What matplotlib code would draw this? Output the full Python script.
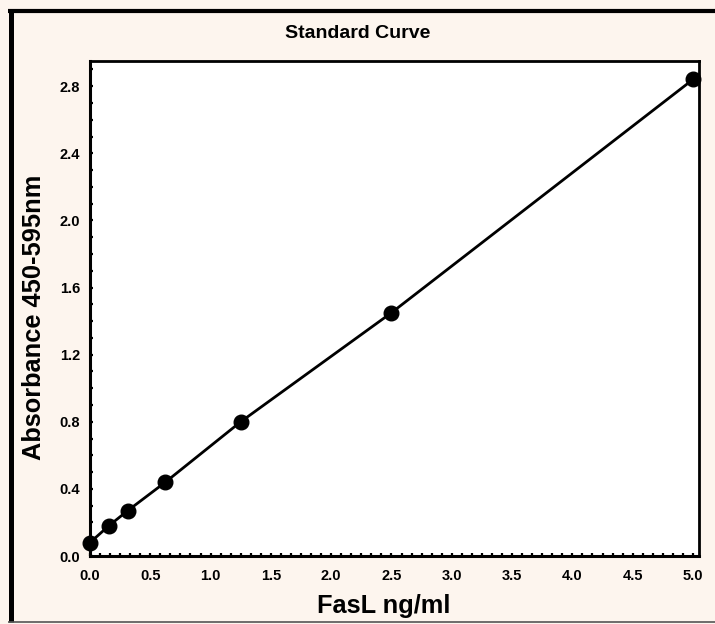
import matplotlib
matplotlib.use("Agg")
import matplotlib.pyplot as plt
from matplotlib.ticker import MultipleLocator, AutoMinorLocator, FormatStrFormatter
from matplotlib.lines import Line2D

plt.rcParams['font.family'] = ['Liberation Sans', 'DejaVu Sans']

# Data
conc = [0.0, 0.156, 0.3125, 0.625, 1.25, 2.5, 5.0]
absorbance = [0.08, 0.18, 0.27, 0.44, 0.80, 1.45, 2.84]

title = "Standard Curve"
xlabel = "FasL ng/ml"
ylabel = "Absorbance 450-595nm"

W, H = 715, 624
bg = '#FDF5EE'
fig = plt.figure(figsize=(W/100, H/100), dpi=100, facecolor=bg)
ax = fig.add_axes([90/W, 1-556/H, (699-90)/W, (556-61)/H])
ax.set_facecolor('white')

ax.plot(conc, absorbance, color='black', lw=2.0, marker='o', ms=10.5,
        mfc='black', mec='black', clip_on=False, zorder=3)

ax.set_xlim(0, 5.05)
ax.set_ylim(0, 2.95)
ax.xaxis.set_major_locator(MultipleLocator(0.5))
ax.xaxis.set_minor_locator(AutoMinorLocator(6))
ax.yaxis.set_major_locator(MultipleLocator(0.4))
ax.yaxis.set_minor_locator(AutoMinorLocator(4))
ax.xaxis.set_major_formatter(FormatStrFormatter('%.1f'))
ax.yaxis.set_major_formatter(FormatStrFormatter('%.1f'))

ax.tick_params(which='both', direction='in', width=1.6, length=2.5)
ax.tick_params(axis='x', which='major', pad=9, labelsize=10.5)
ax.tick_params(axis='y', which='major', pad=7, labelsize=10.5)
for lbl in ax.get_xticklabels() + ax.get_yticklabels():
    lbl.set_fontweight('bold')

for s in ['left', 'bottom']:
    ax.spines[s].set_linewidth(2.2)
for s in ['top', 'right']:
    ax.spines[s].set_linewidth(2.0)

fig.text(358/W, 1-33/H, title, ha='center', va='center',
         fontsize=14, fontweight='bold')
fig.text(384/W, 1-606/H, xlabel, ha='center', va='center',
         fontsize=18.3, fontweight='bold')
fig.text(34/W, 1-317/H, ylabel, ha='center', va='center',
         rotation=90, fontsize=18.3, fontweight='bold')

# outer frame
fig.add_artist(Line2D([10.5/W, 10.5/W], [1-9/H, 1-622/H], color='black', lw=3.6,
                      solid_capstyle='butt', transform=fig.transFigure))
fig.add_artist(Line2D([8/W, 1.0], [1-11/H, 1-11/H], color='black', lw=3.0,
                      solid_capstyle='butt', transform=fig.transFigure))
fig.add_artist(Line2D([8/W, 1.0], [1-622/H, 1-622/H], color='#555555', lw=1.2,
                      solid_capstyle='butt', transform=fig.transFigure))

fig.savefig('out.png', dpi=100, facecolor=bg)
